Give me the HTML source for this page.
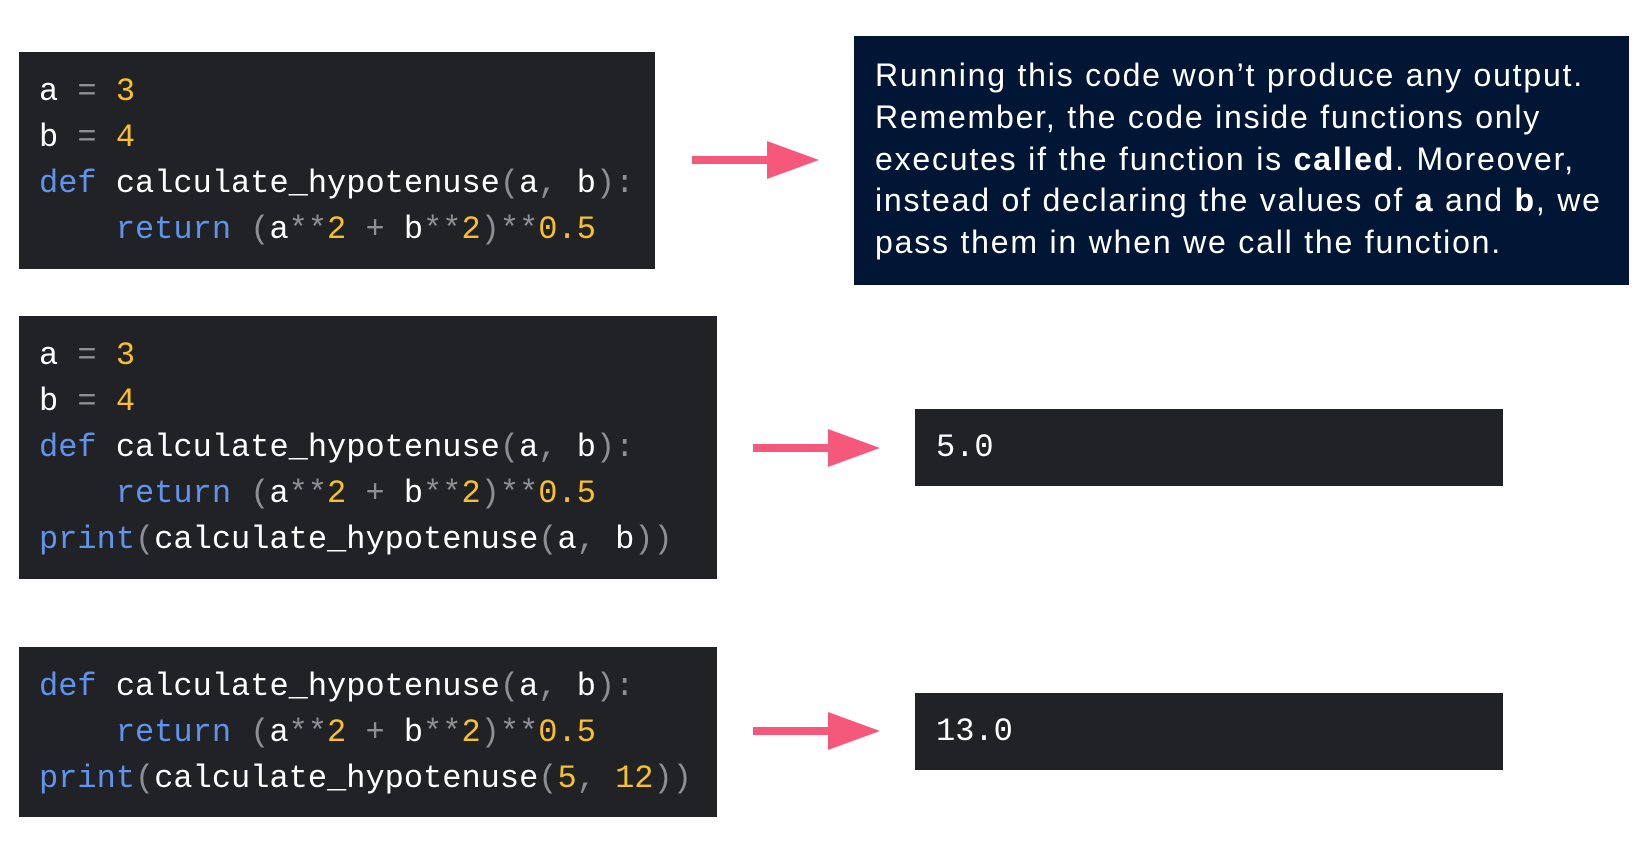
<!DOCTYPE html>
<html><head><meta charset="utf-8"><style>
body{margin:0;width:1650px;height:844px;background:#fff;position:relative;overflow:hidden}
.box{position:absolute;background:#212226}
.code{position:absolute;left:39px;font-family:"Liberation Mono",monospace;font-size:32px;color:#fff;white-space:pre;line-height:46px}
.k{color:#5f93ec}.n{color:#f7c02e}.p{color:#8c8f94}
.txt{position:absolute;left:854px;top:36px;width:775px;height:249px;background:#011635}
.txt div{position:absolute;left:21px;top:19px;font-family:"Liberation Sans",sans-serif;font-size:32px;line-height:41.8px;color:#fff;white-space:pre;letter-spacing:1.8px}
svg{position:absolute;left:0;top:0}
</style></head><body>
<div class="box" style="left:19px;top:52px;width:636px;height:217px"></div>
<div class="code" style="top:69px">a <span class="p">=</span> <span class="n">3</span>
b <span class="p">=</span> <span class="n">4</span>
<span class="k">def</span> calculate_hypotenuse<span class="p">(</span>a<span class="p">,</span> b<span class="p">):</span>
    <span class="k">return</span> <span class="p">(</span>a<span class="p">**</span><span class="n">2</span> <span class="p">+</span> b<span class="p">**</span><span class="n">2</span><span class="p">)**</span><span class="n">0.5</span></div>

<div class="txt"><div>Running this code won’t produce any output.
Remember, the code inside functions only
executes if the function is <b>called</b>. Moreover,
instead of declaring the values of <b>a</b> and <b>b</b>, we
pass them in when we call the function.</div></div>

<div class="box" style="left:19px;top:316px;width:698px;height:263px"></div>
<div class="code" style="top:333px">a <span class="p">=</span> <span class="n">3</span>
b <span class="p">=</span> <span class="n">4</span>
<span class="k">def</span> calculate_hypotenuse<span class="p">(</span>a<span class="p">,</span> b<span class="p">):</span>
    <span class="k">return</span> <span class="p">(</span>a<span class="p">**</span><span class="n">2</span> <span class="p">+</span> b<span class="p">**</span><span class="n">2</span><span class="p">)**</span><span class="n">0.5</span>
<span class="k">print</span><span class="p">(</span>calculate_hypotenuse<span class="p">(</span>a<span class="p">,</span> b<span class="p">))</span></div>

<div class="box" style="left:915px;top:409px;width:588px;height:77px"></div>
<div class="code" style="left:936px;top:425px">5.0</div>

<div class="box" style="left:19px;top:647px;width:698px;height:170px"></div>
<div class="code" style="top:664px"><span class="k">def</span> calculate_hypotenuse<span class="p">(</span>a<span class="p">,</span> b<span class="p">):</span>
    <span class="k">return</span> <span class="p">(</span>a<span class="p">**</span><span class="n">2</span> <span class="p">+</span> b<span class="p">**</span><span class="n">2</span><span class="p">)**</span><span class="n">0.5</span>
<span class="k">print</span><span class="p">(</span>calculate_hypotenuse<span class="p">(</span><span class="n">5</span><span class="p">,</span> <span class="n">12</span><span class="p">))</span></div>

<div class="box" style="left:915px;top:693px;width:588px;height:77px"></div>
<div class="code" style="left:936px;top:709px">13.0</div>

<svg width="1650" height="844">
<g fill="#f6587b">
<rect x="692" y="156" width="75" height="8"/><polygon points="767,141 819,160 767,179"/>
<rect x="753" y="444" width="75" height="8"/><polygon points="828,429 880,448 828,467"/>
<rect x="753" y="727" width="75" height="8"/><polygon points="828,712 880,731 828,750"/>
</g></svg>
</body></html>
